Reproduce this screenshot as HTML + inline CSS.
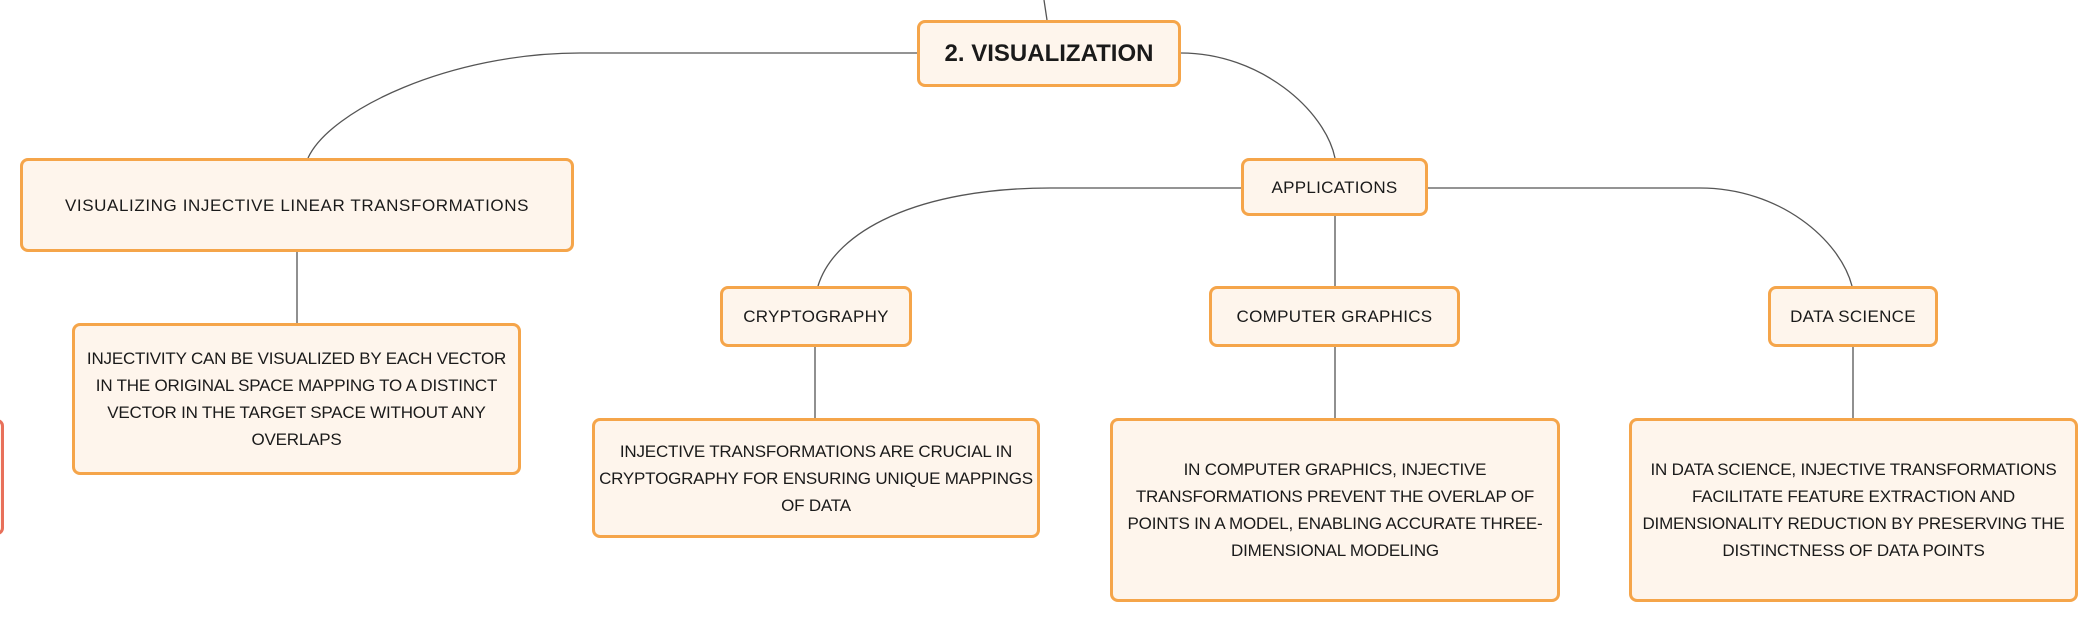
<!DOCTYPE html>
<html><head><meta charset="utf-8"><style>
body{margin:0;width:2099px;height:624px;background:#fff;position:relative;overflow:hidden;font-family:"Liberation Sans",sans-serif;}
.b{position:absolute;box-sizing:border-box;border:3px solid #f5a54a;border-radius:8px;background:#fef5ec;display:flex;align-items:center;justify-content:center;text-align:center;color:#1a1a1a;font-size:17px;line-height:27px;letter-spacing:0.3px;padding:0;white-space:nowrap;}
.d{letter-spacing:-0.2px;}
svg{position:absolute;left:0;top:0}
</style></head><body>
<svg width="2099" height="624" fill="none" stroke="#555" stroke-width="1.3">
<path d="M1044 0 L1047 20"/>
<path d="M917 53 L580 53 C450 53 330 110 308 158"/>
<path d="M1181 53 C1260 53 1325 110 1335 158"/>
<path d="M1241 188 L1050 188 C920 188 835 230 818 286"/>
<path d="M1428 188 L1700 188 C1780 188 1840 240 1852 286"/>
<path d="M1335 216 L1335 286"/>
<path d="M297 252 L297 323"/>
<path d="M815 347 L815 418"/>
<path d="M1335 347 L1335 418"/>
<path d="M1853 347 L1853 418"/>
</svg>
<div class="b" style="left:-10px;top:419px;width:14px;height:116px;border-color:#e8705a;"></div>
<div class="b" style="left:917px;top:20px;width:264px;height:67px;font-weight:bold;font-size:24px;letter-spacing:0px;">2. VISUALIZATION</div>
<div class="b" style="left:20px;top:158px;width:554px;height:94px;letter-spacing:0.6px;">VISUALIZING INJECTIVE LINEAR TRANSFORMATIONS</div>
<div class="b d" style="left:72px;top:323px;width:449px;height:152px;"><div>INJECTIVITY CAN BE VISUALIZED BY EACH VECTOR<br>IN THE ORIGINAL SPACE MAPPING TO A DISTINCT<br>VECTOR IN THE TARGET SPACE WITHOUT ANY<br>OVERLAPS</div></div>
<div class="b" style="left:1241px;top:158px;width:187px;height:58px;">APPLICATIONS</div>
<div class="b" style="left:720px;top:286px;width:192px;height:61px;">CRYPTOGRAPHY</div>
<div class="b" style="left:1209px;top:286px;width:251px;height:61px;">COMPUTER GRAPHICS</div>
<div class="b" style="left:1768px;top:286px;width:170px;height:61px;">DATA SCIENCE</div>
<div class="b d" style="left:592px;top:418px;width:448px;height:120px;"><div>INJECTIVE TRANSFORMATIONS ARE CRUCIAL IN<br>CRYPTOGRAPHY FOR ENSURING UNIQUE MAPPINGS<br>OF DATA</div></div>
<div class="b d" style="left:1110px;top:418px;width:450px;height:184px;"><div>IN COMPUTER GRAPHICS, INJECTIVE<br>TRANSFORMATIONS PREVENT THE OVERLAP OF<br>POINTS IN A MODEL, ENABLING ACCURATE THREE-<br>DIMENSIONAL MODELING</div></div>
<div class="b d" style="left:1629px;top:418px;width:449px;height:184px;"><div>IN DATA SCIENCE, INJECTIVE TRANSFORMATIONS<br>FACILITATE FEATURE EXTRACTION AND<br>DIMENSIONALITY REDUCTION BY PRESERVING THE<br>DISTINCTNESS OF DATA POINTS</div></div>
</body></html>
